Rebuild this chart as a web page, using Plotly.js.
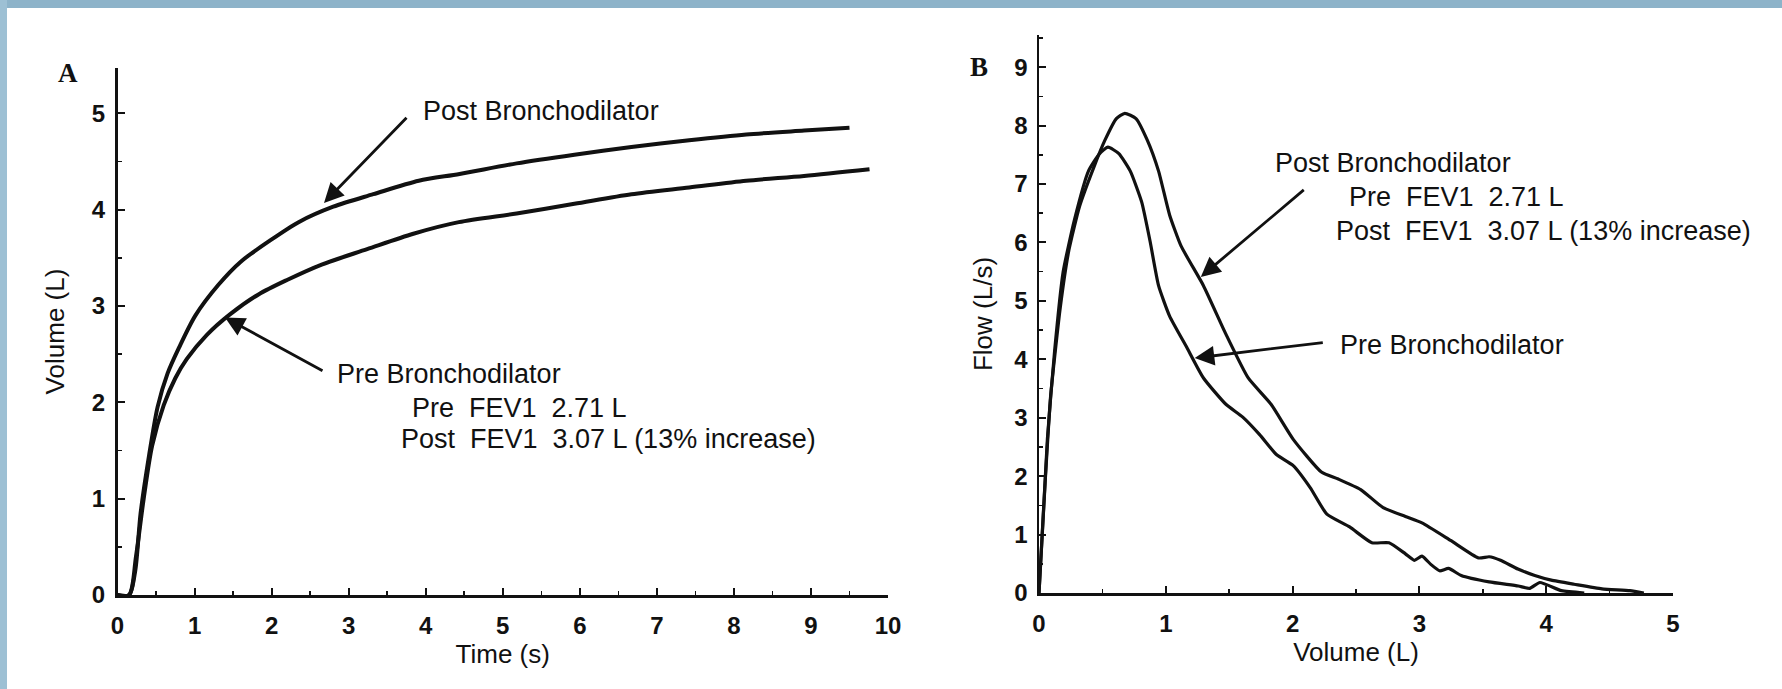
<!DOCTYPE html>
<html>
<head>
<meta charset="utf-8">
<script src="https://cdn.plot.ly/plotly-3.0.1.min.js"></script>
<style>
html,body{margin:0;padding:0;background:#fff;}
#chart{width:1782px;height:689px;}
</style>
</head>
<body>
<div id="chart"></div>
<script>
// ---- Panel A: volume-time curves ----
const postTime   = [0, 0.15, 0.23, 0.30, 0.41, 0.52, 0.65, 0.80, 1.01, 1.31, 1.60, 1.98, 2.35, 2.80, 3.32, 3.91, 4.44, 5.18, 5.93, 6.67, 7.42, 8.16, 8.91, 9.50];
const postVolume = [0, 0, 0.25, 0.85, 1.45, 1.95, 2.30, 2.57, 2.90, 3.22, 3.46, 3.68, 3.87, 4.03, 4.16, 4.30, 4.37, 4.48, 4.57, 4.65, 4.72, 4.78, 4.82, 4.85];
const preTime    = [0, 0.15, 0.24, 0.34, 0.45, 0.60, 0.75, 0.90, 1.16, 1.455, 1.83, 2.20, 2.65, 3.24, 3.84, 4.43, 5.18, 5.93, 6.67, 7.42, 8.16, 8.91, 9.76];
const preVolume  = [0, 0, 0.40, 1.00, 1.55, 1.97, 2.25, 2.45, 2.70, 2.91, 3.12, 3.27, 3.43, 3.59, 3.75, 3.87, 3.96, 4.06, 4.16, 4.23, 4.30, 4.35, 4.42];

// ---- Panel B: flow-volume curves ----
const postLoopVol  = [0, 0.048, 0.092, 0.168, 0.236, 0.32, 0.433, 0.52, 0.61, 0.677, 0.765, 0.854, 0.943, 1.03, 1.12, 1.297, 1.474, 1.65, 1.83, 2.005, 2.227, 2.36, 2.537, 2.714, 2.89, 3.02, 3.246, 3.467, 3.55, 3.64, 3.777, 3.91, 4.04, 4.22, 4.44, 4.66, 4.77];
const postLoopFlow = [0, 1.88, 3.38, 4.89, 5.87, 6.62, 7.29, 7.75, 8.12, 8.21, 8.12, 7.75, 7.22, 6.47, 5.94, 5.26, 4.43, 3.68, 3.23, 2.63, 2.07, 1.95, 1.77, 1.46, 1.31, 1.20, 0.90, 0.60, 0.62, 0.56, 0.41, 0.30, 0.22, 0.15, 0.07, 0.04, 0];
const preLoopVol   = [0, 0.066, 0.123, 0.19, 0.28, 0.39, 0.478, 0.544, 0.63, 0.72, 0.81, 0.876, 0.943, 1.03, 1.164, 1.297, 1.474, 1.607, 1.74, 1.872, 2.005, 2.14, 2.27, 2.45, 2.625, 2.76, 2.89, 2.96, 3.02, 3.09, 3.16, 3.23, 3.33, 3.55, 3.78, 3.87, 3.95, 4.12, 4.30];
const preLoopFlow  = [0, 2.63, 4.14, 5.49, 6.39, 7.22, 7.52, 7.63, 7.52, 7.22, 6.69, 6.02, 5.26, 4.74, 4.21, 3.68, 3.23, 3.01, 2.71, 2.37, 2.18, 1.80, 1.35, 1.13, 0.86, 0.86, 0.67, 0.56, 0.63, 0.49, 0.38, 0.42, 0.30, 0.19, 0.12, 0.08, 0.18, 0.04, 0];

// ---- texts ----
const panelLabels = ["A", "B"];
const axisTitlesA = {x: "Time (s)", y: "Volume (L)"};
const axisTitlesB = {x: "Volume (L)", y: "Flow (L/s)"};
const labelPost = "Post Bronchodilator";
const labelPre  = "Pre Bronchodilator";
const fevPre  = "Pre&#160;&#160;FEV1&#160;&#160;2.71 L";
const fevPost = "Post&#160;&#160;FEV1&#160;&#160;3.07 L (13% increase)";

const W = 1782, H = 689;
const px = v => v / W;
const py = v => 1 - v / H;

const ink = '#111111';
const sans = 'Liberation Sans, Arial, sans-serif';

function axisBase(extra) {
  return Object.assign({
    showline: true, linecolor: ink, linewidth: 2.5,
    showgrid: false, zeroline: false,
    ticks: 'inside', ticklen: 7, tickwidth: 2, tickcolor: ink,
    tickfont: {family: sans, size: 24, color: ink, weight: 'bold'},
    minor: {dtick: 0.5, ticks: 'inside', ticklen: 4, tickwidth: 1.5, tickcolor: ink},
    fixedrange: true
  }, extra);
}

const traces = [
  {x: postTime, y: postVolume, xaxis: 'x', yaxis: 'y', mode: 'lines',
   line: {color: ink, width: 4, shape: 'spline', smoothing: 0.8}, name: labelPost},
  {x: preTime, y: preVolume, xaxis: 'x', yaxis: 'y', mode: 'lines',
   line: {color: ink, width: 4, shape: 'spline', smoothing: 0.8}, name: labelPre},
  {x: postLoopVol, y: postLoopFlow, xaxis: 'x2', yaxis: 'y2', mode: 'lines',
   line: {color: ink, width: 3.2, shape: 'spline', smoothing: 0.5}, name: labelPost},
  {x: preLoopVol, y: preLoopFlow, xaxis: 'x2', yaxis: 'y2', mode: 'lines',
   line: {color: ink, width: 3.2, shape: 'spline', smoothing: 0.5}, name: labelPre}
];

function txt(text, xpx, ypx, size, extra) {
  return Object.assign({
    text: text, xref: 'paper', yref: 'paper', x: px(xpx), y: py(ypx),
    xanchor: 'left', yanchor: 'middle', showarrow: false,
    font: {family: sans, size: size, color: ink}
  }, extra || {});
}
function arrow(xr, yr, hx, hy, tx, ty) {
  return {text: '', xref: xr, yref: yr, x: hx, y: hy, axref: xr, ayref: yr, ax: tx, ay: ty,
          showarrow: true, arrowhead: 2, arrowsize: 1.4, arrowwidth: 2.8, arrowcolor: ink, standoff: 0};
}

const annotations = [
  txt(panelLabels[0], 68, 73, 27, {xanchor: 'center', font: {family: 'Liberation Serif, Times New Roman, serif', size: 27, color: ink, weight: 'bold'}}),
  txt(panelLabels[1], 979, 67, 27, {xanchor: 'center', font: {family: 'Liberation Serif, Times New Roman, serif', size: 27, color: ink, weight: 'bold'}}),
  // panel A texts
  txt(labelPost, 421, 111, 27),
  txt(labelPre, 335, 374, 27),
  txt(fevPre, 410, 408, 27),
  txt(fevPost, 399, 439, 27),
  // panel B texts
  txt(labelPost, 1273, 163, 27),
  txt(fevPre, 1347, 197, 27),
  txt(fevPost, 1334, 231, 27),
  txt(labelPre, 1338, 345, 27),
  // arrows
  arrow('x', 'y', 2.68, 4.07, 3.77, 4.97),
  arrow('x', 'y', 1.395, 2.88, 2.68, 2.32),
  arrow('x2', 'y2', 1.276, 5.41, 2.10, 6.92),
  arrow('x2', 'y2', 1.228, 4.02, 2.25, 4.29)
];

const bandColor = '#8db3c9';
const shapes = [
  {type: 'rect', xref: 'paper', yref: 'paper', x0: 0, x1: 1, y0: py(8), y1: 1, fillcolor: bandColor, line: {width: 0}, layer: 'below'},
  {type: 'rect', xref: 'paper', yref: 'paper', x0: 0, x1: px(7), y0: 0, y1: 1, fillcolor: '#9dc0d4', line: {width: 0}, layer: 'below'}
];

const layout = {
  width: W, height: H,
  margin: {l: 0, r: 0, t: 0, b: 0, pad: 0},
  paper_bgcolor: '#ffffff', plot_bgcolor: 'rgba(0,0,0,0)',
  showlegend: false,
  font: {family: sans, color: ink},
  xaxis: axisBase({domain: [px(117.5), px(888)], range: [0, 10], dtick: 1, anchor: 'y',
    ticklabelstandoff: 8,
    title: {text: axisTitlesA.x, font: {family: sans, size: 26, color: ink}, standoff: 5}}),
  yaxis: axisBase({domain: [py(595), py(68)], range: [0, 5.47], dtick: 1, anchor: 'x',
    ticklabelstandoff: 5,
    title: {text: axisTitlesA.y, font: {family: sans, size: 26, color: ink}, standoff: 20}}),
  xaxis2: axisBase({domain: [px(1039), px(1673)], range: [0, 5], dtick: 1, anchor: 'y2',
    ticklabelstandoff: 8,
    title: {text: axisTitlesB.x, font: {family: sans, size: 26, color: ink}, standoff: 7}}),
  yaxis2: axisBase({domain: [py(593), py(35)], range: [0, 9.55], dtick: 1, anchor: 'x2',
    ticklabelstandoff: 4,
    title: {text: axisTitlesB.y, font: {family: sans, size: 26, color: ink}, standoff: 14}}),
  annotations: annotations,
  shapes: shapes
};

Plotly.newPlot('chart', traces, layout, {displayModeBar: false, staticPlot: true});
</script>
</body>
</html>
